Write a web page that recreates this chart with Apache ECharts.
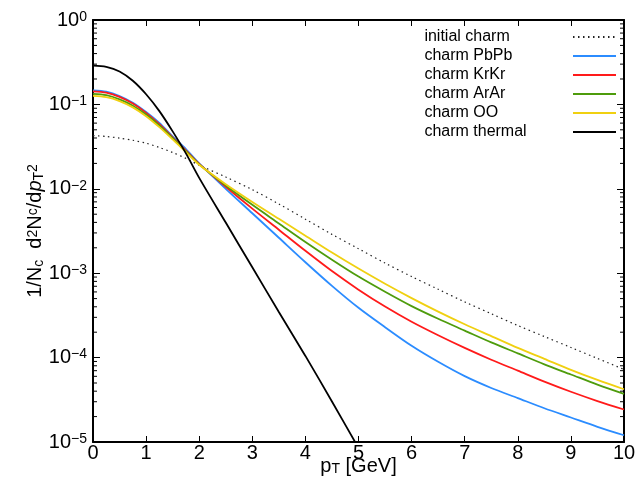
<!DOCTYPE html>
<html>
<head>
<meta charset="utf-8">
<script src="https://cdn.jsdelivr.net/npm/echarts@6/dist/echarts.min.js"></script>
<style>
html,body{margin:0;padding:0;background:#fff;}
#chart{width:636px;height:482px;}
</style>
</head>
<body>
<div id="chart"></div>
<script>
// p_T grid (GeV)
var pT = [0,0.25,0.5,0.75,1,1.25,1.5,1.75,2,2.5,3,3.5,4,4.5,5,5.5,6,6.5,7,7.5,8,8.5,9,9.5,10];
var pTthermal = [0,0.25,0.5,0.75,1,1.25,1.5,1.75,2,2.5,3,3.5,4,4.5,5];

var initialCharm = [0.04266,0.04169,0.03981,0.03758,0.03467,0.03090,0.02692,0.02291,0.01905,0.01380,0.009772,0.006607,0.004365,0.002884,0.00195,0.001318,0.000912,0.0006457,0.0004571,0.0003311,0.0002399,0.0001778,0.0001318,0.00009772,0.00007244];
var charmPbPb = [0.1462,0.1413,0.1259,0.1047,0.08128,0.06026,0.04169,0.02951,0.01995,0.01,0.005129,0.00263,0.001349,0.0007079,0.000389,0.0002291,0.000138,0.00008913,0.00006026,0.00004365,0.00003311,0.00002512,0.0000195,0.00001514,0.00001202];
var charmKrKr = [0.1429,0.1380,0.1230,0.1023,0.07943,0.05821,0.04074,0.02851,0.01972,0.01059,0.005821,0.003273,0.001841,0.001059,0.0006383,0.0004027,0.0002661,0.0001841,0.0001303,0.00009441,0.00006998,0.00005188,0.00003936,0.00003055,0.00002427];
var charmArAr = [0.1334,0.1288,0.1148,0.09661,0.07586,0.05623,0.03981,0.02786,0.0195,0.01096,0.006457,0.00389,0.002344,0.001445,0.000912,0.0006026,0.0004074,0.0002884,0.0002089,0.0001514,0.0001122,0.00008318,0.0000631,0.00004786,0.00003715];
var charmOO = [0.1259,0.1216,0.1096,0.09226,0.07244,0.0537,0.03846,0.02723,0.01928,0.01135,0.006998,0.004416,0.002786,0.001758,0.001135,0.0007499,0.000507,0.0003508,0.0002483,0.0001799,0.0001303,0.00009661,0.00007161,0.00005433,0.00004217];
var charmThermal = [0.288,0.2786,0.2455,0.1905,0.1318,0.0832,0.0479,0.0263,0.01349,0.00398,0.001175,0.000347,0.0001047,0.0000302,0.0000085];

var seriesNames = ['initial charm','charm PbPb','charm KrKr','charm ArAr','charm OO','charm thermal'];
var xTicks = [0,1,2,3,4,5,6,7,8,9,10];
var yDecades = [-5,-4,-3,-2,-1,0];

function pairs(xs, ys){ return xs.map(function(x,i){ return [x, ys[i]]; }); }

// minor tick values 2..9 x 10^n
var minorVals = [];
yDecades.slice(0,5).forEach(function(n){ for (var k=2;k<=9;k++) minorVals.push([0, k*Math.pow(10,n)]); });

var FONT = 'Liberation Sans';
var chart = echarts.init(document.getElementById('chart'), null, {renderer:'canvas'});

function line(name, xs, ys, color, extra){
  var s = {
    name: name, type:'line', data: pairs(xs, ys), symbol:'none', smooth:0.3,
    xAxisIndex:0, yAxisIndex:0, clip:true,
    lineStyle:{color:color, width:1.8}, itemStyle:{color:color}, z:3
  };
  if (extra) Object.assign(s.lineStyle, extra);
  return s;
}

var option = {
  backgroundColor:'#fff',
  animation:false,
  textStyle:{fontFamily:FONT},
  grid:{left:93, right:12, top:20, bottom:40, show:false, outerBoundsMode:'none', containLabel:false},
  legend:[{
    // text column
    orient:'vertical', left:408, top:24, align:'left',
    itemWidth:0, itemHeight:16, itemGap:3,
    data: seriesNames,
    itemStyle:{opacity:0}, lineStyle:{opacity:0},
    textStyle:{fontFamily:FONT, fontSize:16, color:'#000', lineHeight:16}
  },{
    // line-sample column
    orient:'vertical', left:567, top:24, align:'left',
    itemWidth:43, itemHeight:16, itemGap:3,
    data: seriesNames,
    itemStyle:{opacity:0},
    formatter:function(){ return ' '; },
    textStyle:{fontFamily:FONT, fontSize:16, lineHeight:16}
  }],
  xAxis:[{
    type:'value', min:0, max:10, interval:1, position:'bottom',
    axisLine:{show:true, onZero:false, lineStyle:{color:'#000', width:2}},
    axisTick:{show:true, inside:true, length:6, lineStyle:{color:'#000', width:1}},
    axisLabel:{fontFamily:FONT, fontSize:20, color:'#000', margin:1},
    splitLine:{show:false},
    name:'{a|p}{s|T}{a| [GeV]}', nameLocation:'middle', nameGap:14, nameMoveOverlap:false,
    nameTextStyle:{rich:{
      a:{fontFamily:FONT, fontSize:20, lineHeight:20, color:'#000', verticalAlign:'top', padding:[0,0,6,0]},
      s:{fontFamily:FONT, fontSize:14, lineHeight:14, color:'#000', verticalAlign:'bottom'}
    }}
  },{
    type:'value', min:0, max:10, interval:1, position:'top',
    axisLine:{show:true, onZero:false, lineStyle:{color:'#000', width:2}},
    axisTick:{show:true, inside:true, length:6, lineStyle:{color:'#000', width:1}},
    axisLabel:{show:false}, splitLine:{show:false}
  }],
  yAxis:[{
    type:'log', logBase:10, min:1e-5, max:1, interval:1, position:'left',
    axisLine:{show:true, onZero:false, lineStyle:{color:'#000', width:2}},
    axisTick:{show:true, inside:true, length:7, lineStyle:{color:'#000', width:1}},
    splitLine:{show:false},
    axisLabel:{
      margin:6,
      formatter:function(v){
        var e = Math.round(Math.log(v)/Math.LN10);
        return '{b|10}{s|' + (e===0 ? '0' : '\u2212' + (-e)) + '}';
      },
      rich:{
        b:{fontFamily:FONT, fontSize:20, lineHeight:20, color:'#000', verticalAlign:'bottom', padding:[6,0,0,0]},
        s:{fontFamily:FONT, fontSize:14, lineHeight:14, color:'#000', verticalAlign:'top'}
      }
    },
    name:'{a|1/N}{s|c}{a|  d}{u|2}{a|N}{u|c}{a|/d}{i|p}{s|T}{u|2}', nameLocation:'middle', nameGap:47, nameRotate:90, nameMoveOverlap:false,
    nameTextStyle:{rich:{
      a:{fontFamily:FONT, fontSize:20, lineHeight:20, color:'#000', padding:[6,0,8,0]},
      i:{fontFamily:FONT, fontSize:20, lineHeight:20, color:'#000', fontStyle:'italic', padding:[6,0,8,0]},
      s:{fontFamily:FONT, fontSize:14, lineHeight:14, color:'#000', verticalAlign:'bottom'},
      u:{fontFamily:FONT, fontSize:14, lineHeight:14, color:'#000', verticalAlign:'top'}
    }}
  },{
    type:'log', logBase:10, min:1e-5, max:1, interval:1, position:'right',
    axisLine:{show:true, onZero:false, lineStyle:{color:'#000', width:2}},
    axisTick:{show:true, inside:true, length:7, lineStyle:{color:'#000', width:1}},
    axisLabel:{show:false}, splitLine:{show:false}
  }],
  series:[
    line('initial charm', pT, initialCharm, '#222', {type:[1.5,3.5], width:1.2}),
    line('charm PbPb', pT, charmPbPb, '#2b8cff'),
    line('charm KrKr', pT, charmKrKr, '#ff1a1a'),
    line('charm ArAr', pT, charmArAr, '#4e9c0c'),
    line('charm OO', pT, charmOO, '#f0d010'),
    line('charm thermal', pTthermal, charmThermal, '#000'),
    {
      type:'custom', name:'minorTicks', xAxisIndex:0, yAxisIndex:0, silent:true, clip:false,
      data: minorVals, encode:{x:0, y:1}, z:5,
      renderItem:function(params, api){
        var cs = params.coordSys;
        var y = api.coord([0, api.value(1)])[1];
        var st = {stroke:'#000', lineWidth:1};
        return {type:'group', children:[
          {type:'line', shape:{x1:cs.x, y1:y, x2:cs.x+4, y2:y}, style:st},
          {type:'line', shape:{x1:cs.x+cs.width-4, y1:y, x2:cs.x+cs.width, y2:y}, style:st}
        ]};
      }
    }
  ]
};
chart.setOption(option);
</script>
</body>
</html>
